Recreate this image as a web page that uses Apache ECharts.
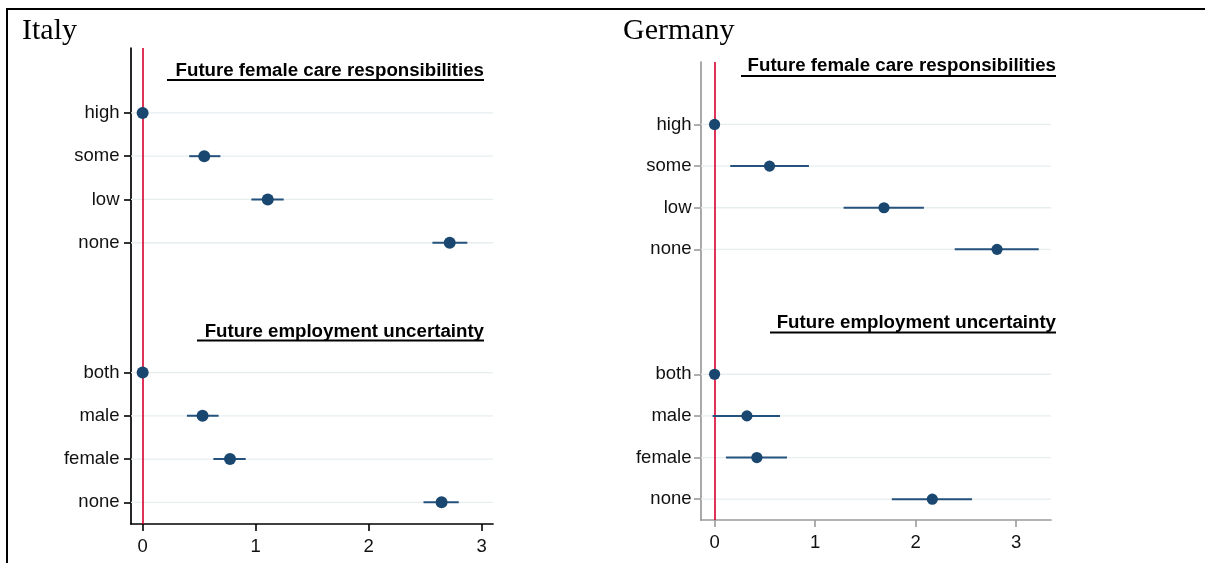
<!DOCTYPE html>
<html>
<head>
<meta charset="utf-8">
<script src="https://cdn.jsdelivr.net/npm/echarts@6/dist/echarts.min.js"></script>
<style>
  html, body { margin: 0; padding: 0; background: #ffffff; }
  #chart { width: 1205px; height: 563px; }
</style>
</head>
<body>
<div id="chart"></div>
<script>
// ---------- data ----------
const careLabels = ['high', 'some', 'low', 'none'];
const empLabels = ['both', 'male', 'female', 'none'];
const xTicks = [0, 1, 2, 3];

// Italy
const itCareEst = [0, 0.545, 1.107, 2.717];
const itCareLo  = [0, 0.412, 0.962, 2.564];
const itCareHi  = [0, 0.688, 1.248, 2.873];
const itEmpEst  = [0, 0.530, 0.773, 2.645];
const itEmpLo   = [0, 0.392, 0.626, 2.485];
const itEmpHi   = [0, 0.672, 0.912, 2.797];

// Germany
const deCareEst = [0, 0.547, 1.686, 2.811];
const deCareLo  = [0, 0.156, 1.284, 2.390];
const deCareHi  = [0, 0.939, 2.083, 3.226];
const deEmpEst  = [0, 0.322, 0.421, 2.167];
const deEmpLo   = [0, -0.020, 0.113, 1.764];
const deEmpHi   = [0, 0.651, 0.721, 2.562];

const panelTitles = ['Italy', 'Germany'];
const heading1 = 'Future female care responsibilities';
const heading2 = 'Future employment uncertainty';

// ---------- build ----------
const EMP_OFFSET = careLabels.length + 2; // blank row + heading row
const careRows = careLabels.map((_, i) => i);
const empRows = empLabels.map((_, i) => i + EMP_OFFSET);
const allRows = careRows.concat(empRows);
const rowLabel = {};
careRows.forEach((r, i) => rowLabel[r] = careLabels[i]);
empRows.forEach((r, i) => rowLabel[r] = empLabels[i]);

const DOT = '#1a476f';
const CI = '#24527c';
const GRIDC = '#e7eef0';
const RED = '#d6002e';
const FONT = '"Liberation Sans", Arial, sans-serif';

function panelData(cE, cL, cH, eE, eL, eH) {
  const out = [];
  careRows.forEach((r, i) => out.push([cE[i], r, cL[i], cH[i]]));
  empRows.forEach((r, i) => out.push([eE[i], r, eL[i], eH[i]]));
  return out;
}
const itData = panelData(itCareEst, itCareLo, itCareHi, itEmpEst, itEmpLo, itEmpHi);
const deData = panelData(deCareEst, deCareLo, deCareHi, deEmpEst, deEmpLo, deEmpHi);

function gridRender(params, api) {
  const cs = params.coordSys;
  const y = api.coord([0, api.value(1)])[1];
  return {
    type: 'line',
    shape: { x1: cs.x, y1: y, x2: cs.x + cs.width, y2: y },
    style: { stroke: GRIDC, lineWidth: 1.3 }
  };
}
function makePointRender(r) {
  return function (params, api) {
    const est = api.value(0), row = api.value(1), lo = api.value(2), hi = api.value(3);
    const p = api.coord([est, row]);
    const pl = api.coord([lo, row]);
    const ph = api.coord([hi, row]);
    const children = [];
    if (hi > lo) {
      children.push({
        type: 'line',
        shape: { x1: pl[0], y1: pl[1], x2: ph[0], y2: ph[1] },
        style: { stroke: CI, lineWidth: 2 }
      });
    }
    children.push({
      type: 'circle',
      shape: { cx: p[0], cy: p[1], r: r },
      style: { fill: DOT }
    });
    return { type: 'group', children: children };
  };
}

function yAxis(gridIndex, color, margin) {
  return {
    type: 'value', gridIndex: gridIndex, inverse: true, min: -1.5, max: 9.5,
    axisLine: { show: true, onZero: false, lineStyle: { color: color, width: 1.7 } },
    axisTick: { show: true, length: 7, customValues: allRows, lineStyle: { color: color, width: 1.6 } },
    axisLabel: {
      show: true, customValues: allRows, margin: margin,
      fontFamily: FONT, fontSize: 18.5, color: '#111',
      formatter: v => rowLabel[Math.round(v)] || ''
    },
    splitLine: { show: false }
  };
}
function xAxis(gridIndex, color, min, max) {
  return {
    type: 'value', gridIndex: gridIndex, min: min, max: max,
    axisLine: { show: true, onZero: false, lineStyle: { color: color, width: 1.7 } },
    axisTick: { show: true, length: 7, customValues: xTicks, lineStyle: { color: color, width: 1.6 } },
    axisLabel: {
      show: true, customValues: xTicks, margin: 13,
      fontFamily: FONT, fontSize: 18.5, color: '#111'
    },
    splitLine: { show: false }
  };
}

function zeroLine() {
  return {
    silent: true, symbol: ['none', 'none'], label: { show: false },
    lineStyle: { color: RED, width: 1.6, type: 'solid' },
    emphasis: { disabled: true },
    data: [{ xAxis: 0 }]
  };
}

function headingGroup(text, xStart, xEnd, yMid, yLine) {
  return [
    {
      type: 'text', x: xEnd, y: yMid,
      style: { text: text, font: 'bold 18.7px ' + FONT, fill: '#000', align: 'right', verticalAlign: 'middle' }
    },
    {
      type: 'line', shape: { x1: xStart, y1: yLine, x2: xEnd, y2: yLine },
      style: { stroke: '#000', lineWidth: 2 }
    }
  ];
}

const option = {
  backgroundColor: '#ffffff',
  animation: false,
  grid: [
    { left: 131, top: 48, width: 362, height: 476 },
    { left: 701, top: 62, width: 350, height: 458 }
  ],
  xAxis: [
    xAxis(0, '#000', -0.103, 3.10),
    xAxis(1, '#9a9a9a', -0.135, 3.348)
  ],
  yAxis: [
    yAxis(0, '#000', 11.5),
    yAxis(1, '#9a9a9a', 9.5)
  ],
  series: [
    {
      type: 'custom', xAxisIndex: 0, yAxisIndex: 0, z: 1, silent: true,
      renderItem: gridRender, data: itData, encode: { x: 0, y: 1 },
      markLine: zeroLine()
    },
    {
      type: 'custom', xAxisIndex: 0, yAxisIndex: 0, z: 5, silent: true,
      renderItem: makePointRender(6), data: itData, encode: { x: [0, 2, 3], y: 1 }
    },
    {
      type: 'custom', xAxisIndex: 1, yAxisIndex: 1, z: 1, silent: true,
      renderItem: gridRender, data: deData, encode: { x: 0, y: 1 },
      markLine: zeroLine()
    },
    {
      type: 'custom', xAxisIndex: 1, yAxisIndex: 1, z: 5, silent: true,
      renderItem: makePointRender(5.6), data: deData, encode: { x: [0, 2, 3], y: 1 }
    }
  ],
  graphic: [
    // frame
    { type: 'line', shape: { x1: 6, y1: 9, x2: 1205, y2: 9 }, style: { stroke: '#000', lineWidth: 2 } },
    { type: 'line', shape: { x1: 7, y1: 8, x2: 7, y2: 563 }, style: { stroke: '#000', lineWidth: 2 } },
    // panel titles
    { type: 'text', x: 22, y: 31, style: { text: panelTitles[0], font: '30px "Liberation Serif", "Times New Roman", serif', fill: '#000', verticalAlign: 'middle' } },
    { type: 'text', x: 623, y: 31, style: { text: panelTitles[1], font: '30px "Liberation Serif", "Times New Roman", serif', fill: '#000', verticalAlign: 'middle' } }
  ]
    .concat(headingGroup(heading1, 167, 484, 70.5, 80))
    .concat(headingGroup(heading2, 197, 484, 331.5, 340.5))
    .concat(headingGroup(heading1, 741, 1056, 65.5, 76))
    .concat(headingGroup(heading2, 770, 1056, 323, 332.5))
};

const chart = echarts.init(document.getElementById('chart'), null, { renderer: 'canvas' });
chart.setOption(option);
</script>
</body>
</html>
